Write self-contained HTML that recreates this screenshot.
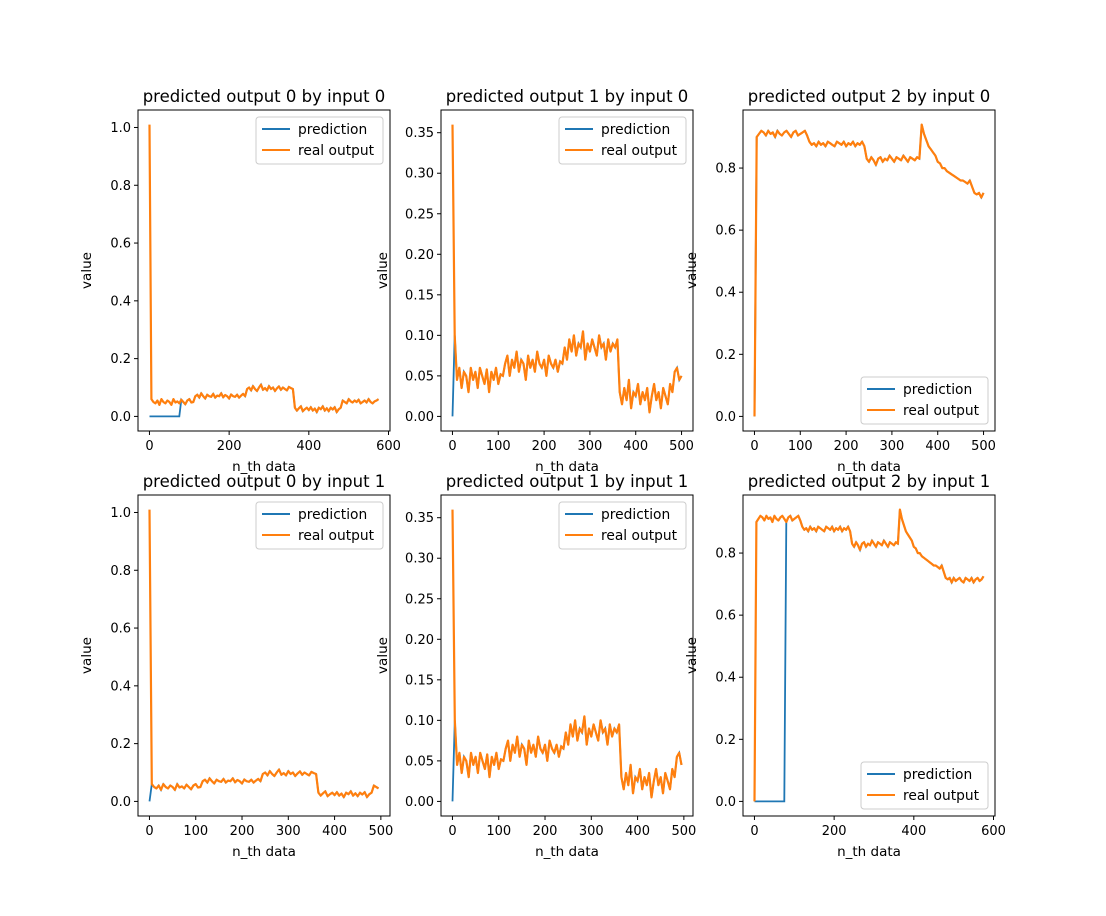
<!DOCTYPE html>
<html><head><meta charset="utf-8"><style>
body{margin:0;background:#fff;}
svg{display:block;font-family:"DejaVu Sans","Liberation Sans",sans-serif;}
</style></head><body>
<svg id="fig" width="1106" height="916" xmlns="http://www.w3.org/2000/svg"></svg>
<script>
const output0Real=[1.01,0.06,0.05,0.045,0.055,0.04,0.06,0.05,0.045,0.055,0.05,0.04,0.06,0.048,0.052,0.045,0.058,0.05,0.042,0.055,0.06,0.048,0.05,
0.07,0.075,0.065,0.08,0.07,0.062,0.075,0.07,0.068,0.078,0.065,0.072,0.07,0.08,0.066,0.074,0.07,0.062,0.076,0.07,0.068,0.075,0.065,0.072,0.078,0.07,
0.095,0.1,0.09,0.105,0.095,0.088,0.1,0.11,0.092,0.098,0.09,0.105,0.095,0.1,0.088,0.097,0.104,0.092,0.1,0.095,0.09,0.102,0.098,0.095,
0.03,0.02,0.028,0.035,0.018,0.025,0.03,0.022,0.032,0.02,0.027,0.015,0.03,0.025,0.035,0.02,0.028,0.018,0.03,0.024,0.032,0.015,0.025,0.03,
0.055,0.05,0.045,0.06,0.052,0.048,0.055,0.05,0.058,0.045,0.05,0.055,0.048,0.06,0.05,0.045,0.052,0.055,0.06];
const output1Real=[0.36,0.1,0.045,0.06,0.035,0.055,0.05,0.03,0.06,0.045,0.055,0.035,0.06,0.05,0.04,0.058,0.03,0.055,0.045,0.06,0.04,0.052,0.05,
0.065,0.075,0.05,0.07,0.06,0.08,0.055,0.07,0.065,0.045,0.075,0.06,0.07,0.055,0.08,0.065,0.06,0.07,0.05,0.075,0.065,0.06,0.07,0.055,0.068,0.065,
0.085,0.07,0.095,0.08,0.1,0.075,0.09,0.085,0.105,0.07,0.09,0.08,0.095,0.085,0.075,0.1,0.085,0.09,0.07,0.095,0.08,0.09,0.085,0.095,
0.03,0.015,0.035,0.02,0.045,0.01,0.03,0.025,0.04,0.015,0.03,0.02,0.035,0.005,0.025,0.04,0.02,0.03,0.01,0.035,0.025,0.015,0.04,0.03,
0.055,0.06,0.045,0.05,0.06,0.04,0.055,0.05,0.06,0.045,0.055,0.05,0.06,0.04,0.055,0.05,0.06,0.045,0.055];
const output2Real=[0,0.9,0.91,0.92,0.915,0.905,0.92,0.91,0.915,0.9,0.92,0.91,0.905,0.915,0.92,0.91,0.9,0.915,0.92,0.905,0.91,0.915,0.92,0.905,
0.885,0.875,0.88,0.87,0.885,0.875,0.88,0.87,0.885,0.88,0.875,0.87,0.885,0.88,0.875,0.885,0.87,0.88,0.875,0.885,0.87,0.88,0.875,0.885,0.87,
0.83,0.82,0.835,0.825,0.81,0.83,0.835,0.82,0.83,0.825,0.84,0.83,0.82,0.835,0.83,0.825,0.84,0.83,0.82,0.835,0.83,0.825,0.835,0.83,
0.94,0.91,0.89,0.87,0.86,0.85,0.84,0.82,0.815,0.8,0.8,0.79,0.785,0.78,0.775,0.77,0.765,0.76,0.76,0.755,0.75,0.76,0.74,0.72,
0.715,0.72,0.705,0.72,0.71,0.715,0.72,0.71,0.705,0.72,0.715,0.71,0.72,0.705,0.715,0.72,0.71,0.715,0.725];
const sampleStep=5;
const panelTitles=["predicted output 0 by input 0","predicted output 1 by input 0","predicted output 2 by input 0","predicted output 0 by input 1","predicted output 1 by input 1","predicted output 2 by input 1"];
const panelLengths=[116,101,101,100,100,116];
const predZeroUntil=[80,5,2,1,1,80];
const xTicksLong=[0,200,400,600];
const xTicksShort=[0,100,200,300,400,500];
const yTicksA=[0,0.2,0.4,0.6,0.8,1.0];
const yTicksB=[0,0.05,0.1,0.15,0.2,0.25,0.3,0.35];
const yTicksC=[0,0.2,0.4,0.6,0.8];

const NS="http://www.w3.org/2000/svg";
const fig=document.getElementById('fig');
function mk(tag,attrs,parent){const e=document.createElementNS(NS,tag);for(const k in attrs)e.setAttribute(k,attrs[k]);(parent||fig).appendChild(e);return e;}
const series=[output0Real,output1Real,output2Real,output0Real,output1Real,output2Real];
const yTicksArr=[yTicksA,yTicksB,yTicksC,yTicksA,yTicksB,yTicksC];
const yDec=[1,2,1,1,2,1];
const legendLower=[false,false,true,false,false,true];
const colsX=[138,441,743],rowsY=[110,495],W=252,H=321;
for(let p=0;p<6;p++){
  const L=colsX[p%3],T=rowsY[Math.floor(p/3)];
  const real=series[p].slice(0,panelLengths[p]);
  const xs=real.map((v,i)=>i*sampleStep);
  const xmax=xs[xs.length-1];
  const ymax=Math.max(...real),ymin=0;
  const xlo=-0.05*xmax,xhi=xmax*1.05,ylo=ymin-0.05*(ymax-ymin),yhi=ymax+0.05*(ymax-ymin);
  const X=v=>L+(v-xlo)/(xhi-xlo)*W, Y=v=>T+H-(v-ylo)/(yhi-ylo)*H;
  const g=mk('g',{});
  
  
  const clipId='c'+p;
  const cp=mk('clipPath',{id:clipId},g);mk('rect',{x:L,y:T,width:W,height:H},cp);
  const pred=real.map((v,i)=>xs[i]<predZeroUntil[p]?0:v);
  const lp=mk('polyline',{points:xs.map((x,i)=>X(x).toFixed(1)+','+Y(pred[i]).toFixed(1)).join(' '),fill:'none',stroke:'#1f77b4','stroke-width':1.8,'clip-path':'url(#'+clipId+')'},g);
  
  
  const lr=mk('polyline',{points:xs.map((x,i)=>X(x).toFixed(1)+','+Y(real[i]).toFixed(1)).join(' '),fill:'none',stroke:'#ff7f0e','stroke-width':2.2,'stroke-linejoin':'round','clip-path':'url(#'+clipId+')'},g);
  
  
  mk('rect',{x:L,y:T,width:W,height:H,fill:'none',stroke:'#000','stroke-width':1},g);
  const xt=xmax>520?xTicksLong:xTicksShort;
  xt.forEach(v=>{const x=X(v);mk('line',{x1:x,x2:x,y1:T+H,y2:T+H+4,stroke:'#000'},g);
    const t=mk('text',{x:x,y:T+H+19,'font-size':13,'text-anchor':'middle'},g);t.textContent=v;
    });
  yTicksArr[p].forEach(v=>{const y=Y(v);mk('line',{x1:L-4,x2:L,y1:y,y2:y,stroke:'#000'},g);
    const t=mk('text',{x:L-7,y:y+4.5,'font-size':13,'text-anchor':'end'},g);t.textContent=v.toFixed(yDec[p]);
    });
  const tt=mk('text',{x:L+W/2,y:T-8,'font-size':16.5,'text-anchor':'middle'},g);tt.textContent=panelTitles[p];
  
  const xl=mk('text',{x:L+W/2,y:T+H+40,'font-size':13.5,'text-anchor':'middle'},g);xl.textContent='n_th data';
  
  const ylx=L-(yDec[p]==2?54:47),yly=T+H/2;
  const yl=mk('text',{x:ylx,y:yly,'font-size':13.5,'text-anchor':'middle',transform:'rotate(-90 '+ylx+' '+yly+')'},g);yl.textContent='value';
  
  const lx=L+W-134,ly=legendLower[p]?T+H-54:T+7;
  const lg=mk('g',{},g);
  
  mk('rect',{x:lx,y:ly,width:127,height:47,rx:3,fill:'#fff','fill-opacity':0.8,stroke:'#ccc'},lg);
  [['prediction','#1f77b4'],['real output','#ff7f0e']].forEach((e,i)=>{const yy=ly+12+i*21;
    mk('line',{x1:lx+6,x2:lx+34,y1:yy,y2:yy,stroke:e[1],'stroke-width':2},lg);
    const t=mk('text',{x:lx+42,y:yy+5,'font-size':13.8},lg);t.textContent=e[0];
    });
}
</script>
</body></html>
